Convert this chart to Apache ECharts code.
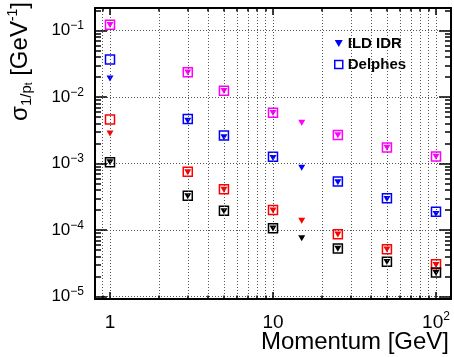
<!DOCTYPE html>
<html>
<head>
<meta charset="utf-8">
<script src="https://cdn.jsdelivr.net/npm/echarts@6/dist/echarts.min.js"></script>
<style>
  html, body { margin: 0; padding: 0; background: #fff; }
  #chart { width: 454px; height: 357px; }
</style>
</head>
<body>
<div id="chart"></div>
<script>
// Momentum points (GeV)
const ildMomentum = [1, 3, 5, 10, 15, 25, 50, 100];
const delphesMomentum = [1, 3, 5, 10, 25, 50, 100];

// sigma(1/pt) in GeV^-1, one array per polar-angle group (drawn colour)
const ildMagenta = [0.122, 0.0235, 0.0124, 0.0058, 0.00414, 0.00268, 0.00174, 0.00127];
const delphesMagenta = [0.123, 0.0237, 0.01253, 0.00585, 0.00270, 0.001754, 0.001283];
const ildBlue = [0.0190, 0.00440, 0.00250, 0.00122, 0.00087, 0.000525, 0.000295, 0.000175];
const delphesBlue = [0.0369, 0.00470, 0.00264, 0.00127, 0.000540, 0.000302, 0.000190];
const ildRed = [0.00283, 0.000745, 0.000405, 0.000198, 0.000139, 0.0000860, 0.0000510, 0.0000300];
const delphesRed = [0.00462, 0.000758, 0.000412, 0.000201, 0.0000871, 0.0000518, 0.0000308];
const ildBlack = [0.00105, 0.000325, 0.000193, 0.000106, 0.0000755, 0.0000525, 0.0000332, 0.0000228];
const delphesBlack = [0.00105, 0.000329, 0.000196, 0.000107, 0.0000531, 0.0000336, 0.0000231];

// Tick labels
const xTickValues = [1, 10, 100];
const xTickLabels = ['{b|1}', '{b|10}', '{b|10}{s|2}'];
const yTickValues = [1e-5, 1e-4, 1e-3, 1e-2, 1e-1];
const yTickLabels = ['{b|10}{s|\u22125}', '{b|10}{s|\u22124}', '{b|10}{s|\u22123}', '{b|10}{s|\u22122}', '{b|10}{s|\u22121}'];

const legendNames = ['ILD IDR', 'Delphes'];

const X_MIN = 0.809, X_MAX = 123.6;
const Y_MIN = 9.23e-6, Y_MAX = 0.219;

const FONT = '"Liberation Sans", Arial, Helvetica, sans-serif';
const TRI = 'path://M0,0L10,0L5,9Z';

// minor (2..9 x 10^n) tick positions on the log axes
function minorTicks(lo, hi) {
  const out = [];
  for (let e = Math.floor(Math.log10(lo)) - 1; e <= Math.ceil(Math.log10(hi)); e++) {
    for (let k = 2; k <= 9; k++) {
      const v = k * Math.pow(10, e);
      if (v > lo && v < hi) out.push(+v.toPrecision(3));
    }
  }
  return out;
}
const xMinor = minorTicks(X_MIN, X_MAX);
const yMinor = minorTicks(Y_MIN, Y_MAX);

const gridLine = { show: true, lineStyle: { color: '#555', width: 1, type: [1, 2] } };
const frameLine = { show: true, onZero: false, lineStyle: { color: '#000', width: 2 } };
const tickStyle = { color: '#000', width: 1.5 };

function logAxis(kind, position, values, len, opts) {
  const ax = {
    type: 'log',
    logBase: 10,
    position: position,
    min: kind === 'x' ? X_MIN : Y_MIN,
    max: kind === 'x' ? X_MAX : Y_MAX,
    axisLine: opts.line ? frameLine : { show: false, onZero: false },
    axisTick: { show: true, inside: true, length: len, customValues: values, lineStyle: tickStyle },
    axisLabel: { show: false },
    splitLine: opts.split ? gridLine : { show: false },
    minorTick: { show: false },
    z: 5
  };
  return Object.assign(ax, opts.extra || {});
}

const labelRich = (main, sup) => ({
  b: { fontFamily: FONT, fontSize: main, color: '#000', lineHeight: main + 4 },
  s: { fontFamily: FONT, fontSize: sup, color: '#000', lineHeight: sup + 1, verticalAlign: 'top' }
});

const xAxes = [
  logAxis('x', 'bottom', xTickValues, 7, {
    line: true, split: true, extra: {
      axisLabel: {
        show: true, customValues: xTickValues, margin: 12,
        formatter: v => xTickLabels[xTickValues.findIndex(t => Math.abs(t - v) / t < 1e-6)],
        rich: labelRich(19, 12)
      }
    }
  }),
  logAxis('x', 'bottom', xMinor, 3.5, { line: false, split: true }),
  logAxis('x', 'top', xTickValues, 7, { line: true, split: false }),
  logAxis('x', 'top', xMinor, 3.5, { line: false, split: false })
];

const yAxes = [
  logAxis('y', 'left', yTickValues, 12, {
    line: true, split: true, extra: {
      axisLabel: {
        show: true, customValues: yTickValues, margin: 11,
        formatter: v => yTickLabels[yTickValues.findIndex(t => Math.abs(t - v) / t < 1e-6)],
        rich: labelRich(17, 12)
      }
    }
  }),
  logAxis('y', 'left', yMinor, 6, { line: false, split: false }),
  logAxis('y', 'right', yTickValues, 12, { line: true, split: false }),
  logAxis('y', 'right', yMinor, 6, { line: false, split: false })
];

function pairs(xs, ys) { return xs.map((x, i) => [x, ys[i]]); }

const groups = [
  { color: '#0000ff', ild: ildBlue, delphes: delphesBlue },
  { color: '#ff00ff', ild: ildMagenta, delphes: delphesMagenta },
  { color: '#ff0000', ild: ildRed, delphes: delphesRed },
  { color: '#000000', ild: ildBlack, delphes: delphesBlack }
];

const series = [];
groups.forEach(g => {
  series.push({
    name: legendNames[0], type: 'scatter', xAxisIndex: 0, yAxisIndex: 0,
    symbol: TRI, symbolSize: [7, 6], z: 4, silent: true,
    itemStyle: { color: g.color, opacity: 1 },
    data: pairs(ildMomentum, g.ild)
  });
  series.push({
    name: legendNames[1], type: 'scatter', xAxisIndex: 0, yAxisIndex: 0,
    symbol: 'rect', symbolSize: 9, z: 3, silent: true,
    itemStyle: { color: 'rgba(0,0,0,0)', borderColor: g.color, borderWidth: 1.5, opacity: 1 },
    data: pairs(delphesMomentum, g.delphes)
  });
});

const chart = echarts.init(document.getElementById('chart'), null, { renderer: 'canvas' });
chart.setOption({
  animation: false,
  backgroundColor: '#fff',
  grid: { left: 95, right: 3, top: 8, bottom: 58, containLabel: false, outerBoundsMode: 'none' },
  xAxis: xAxes,
  yAxis: yAxes,
  legend: {
    orient: 'vertical', left: 334, top: 36, padding: 0,
    itemWidth: 8, itemHeight: 8, itemGap: 6,
    selectedMode: false,
    textStyle: { fontFamily: FONT, fontSize: 15, fontWeight: 'bold', color: '#000', lineHeight: 13 },
    data: [
      { name: legendNames[0], icon: TRI, itemStyle: { color: '#0000ff', borderWidth: 0 } },
      { name: legendNames[1], icon: 'rect', itemStyle: { color: 'rgba(0,0,0,0)', borderColor: '#0000ff', borderWidth: 1.5 } }
    ]
  },
  graphic: [{
    type: 'text',
    x: 20, y: 2,
    rotation: Math.PI / 2,
    silent: true,
    style: {
      text: '{m|\u03c3}{sb|1/p}{sbb|t}{m| [GeV}{sp|-1}{m|]}',
      align: 'right', verticalAlign: 'middle',
      fill: '#000',
      font: '24px ' + FONT,
      rich: {
        m: { fontFamily: FONT, fontSize: 24, lineHeight: 28, fill: '#000' },
        sb: { fontFamily: FONT, fontSize: 15, lineHeight: 14, verticalAlign: 'bottom', fill: '#000' },
        sbb: { fontFamily: FONT, fontSize: 10, lineHeight: 7, verticalAlign: 'bottom', fill: '#000' },
        sp: { fontFamily: FONT, fontSize: 14, lineHeight: 14, verticalAlign: 'top', fill: '#000' }
      }
    }
  }, {
    type: 'text',
    x: 449, y: 342,
    silent: true,
    style: {
      text: 'Momentum [GeV]',
      align: 'right', verticalAlign: 'middle',
      fill: '#000',
      font: '24px ' + FONT
    }
  }],
  series: series
});
</script>
</body>
</html>
